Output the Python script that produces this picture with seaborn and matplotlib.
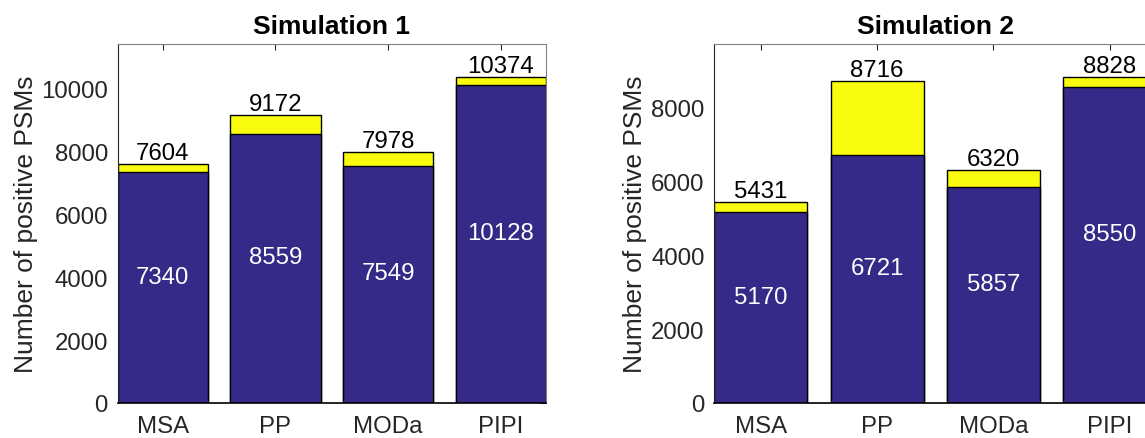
import matplotlib
matplotlib.use("Agg")
import matplotlib.pyplot as plt
import seaborn as sns
import pandas as pd

# Search engines compared
categories = ["MSA", "PP", "MODa", "PIPI"]

# Simulation 1: total positive PSMs and the correct part of them
sim1_total = [7604, 9172, 7978, 10374]
sim1_correct = [7340, 8559, 7549, 10128]

# Simulation 2
sim2_total = [5431, 8716, 6320, 8828]
sim2_correct = [5170, 6721, 5857, 8550]

sim1_yticks = [0, 2000, 4000, 6000, 8000, 10000]
sim2_yticks = [0, 2000, 4000, 6000, 8000]

BLUE = "#352a87"
YELLOW = "#f9fb0e"
AX_COLOR = "#262626"
BASE_FS = 17.3
LABEL_FS = 19

sns.set_style("white")
plt.rcParams["font.family"] = ["Liberation Sans", "DejaVu Sans"]
plt.rcParams["font.size"] = BASE_FS

W, H = 1145, 439
fig = plt.figure(figsize=(W / 100, H / 100), dpi=100)


def px_axes(left, right, top, bottom):
    return fig.add_axes([left / W, (H - bottom) / H, (right - left) / W, (bottom - top) / H])


ax1 = px_axes(117.7, 546.0, 45.3, 404.0)
ax2 = px_axes(714.3, 1156.3, 45.3, 404.0)

panels = [
    (ax1, "Simulation 1", sim1_total, sim1_correct, sim1_yticks, (38 - 117.7) / 428.3),
    (ax2, "Simulation 2", sim2_total, sim2_correct, sim2_yticks, (647 - 714.3) / 442.0),
]

for ax, title, total, correct, yticks, ylab_x in panels:
    df = pd.DataFrame({"engine": categories, "total": total, "correct": correct})
    sns.barplot(data=df, x="engine", y="total", color=YELLOW, saturation=1,
                width=0.8, edgecolor="black", linewidth=1.0, ax=ax)
    sns.barplot(data=df, x="engine", y="correct", color=BLUE, saturation=1,
                width=0.8, edgecolor="black", linewidth=1.0, ax=ax)

    for i, (t, c) in enumerate(zip(total, correct)):
        ax.text(i, t, f"{t}", ha="center", va="bottom", color="black", fontsize=BASE_FS)
        ax.text(i, c / 2, f"{c}", ha="center", va="bottom", color="white", fontsize=BASE_FS)

    ax.set_xlim(-0.4, len(categories) - 0.6)
    ax.set_ylim(0, max(total) * 1.1)
    ax.set_yticks(yticks)
    ax.set_xlabel("")
    ax.set_ylabel("Number of positive PSMs", fontsize=LABEL_FS, color=AX_COLOR)
    ax.yaxis.set_label_coords(ylab_x, 0.5)
    ax.set_title(title, fontsize=LABEL_FS, fontweight="bold", color="black", pad=8)

    for side in ["left", "right", "top", "bottom"]:
        ax.spines[side].set_visible(True)
        ax.spines[side].set_color(AX_COLOR)
        ax.spines[side].set_linewidth(0.8)
    ax.spines["top"].set_color("#808080")
    ax.spines["right"].set_color("#808080")
    ax.spines["bottom"].set_linewidth(1.2)
    ax.spines["bottom"].set_color("black")

    ax.tick_params(axis="both", direction="in", length=4, width=0.8,
                   colors=AX_COLOR, labelsize=BASE_FS, top=True, right=True)
    ax.tick_params(axis="x", pad=8.5)
    ax.tick_params(axis="y", pad=7)
    ax.grid(False)

fig.savefig("out.png", dpi=100)
